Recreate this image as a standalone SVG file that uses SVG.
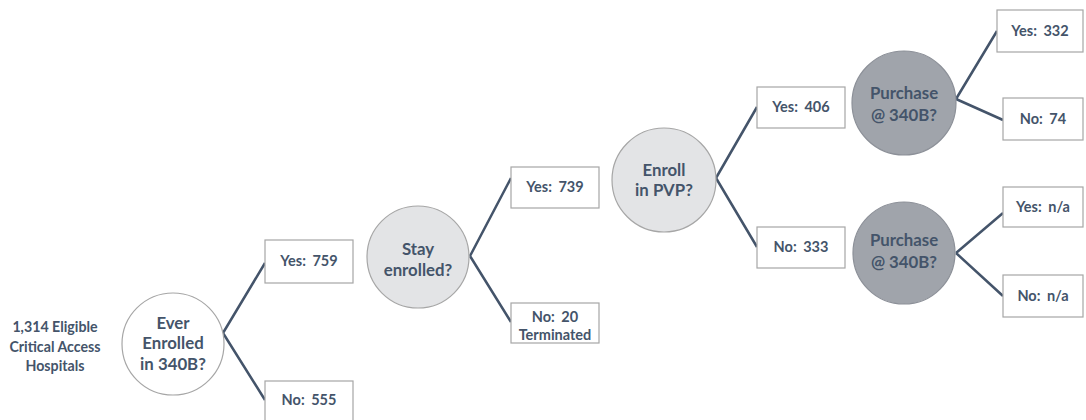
<svg xmlns="http://www.w3.org/2000/svg" width="1086" height="420" viewBox="0 0 1086 420">
<style>
.t{font-family:Lato,"Open Sans","Liberation Sans",sans-serif;font-weight:bold;fill:#44546a;text-anchor:middle}
.bt{font-size:14.5px;word-spacing:3px}
.ct{font-size:16.8px}
.lt{font-size:14.2px}
.box{fill:#fff;stroke:#a6a6a6;stroke-width:1.2}
.c0{fill:#fff;stroke:#a6a6a6;stroke-width:1.2}
.c1{fill:#e3e4e6;stroke:#a6a6a6;stroke-width:1.2}
.c2{fill:#a0a4ab;stroke:#8c9098;stroke-width:1.2}
.ln{stroke:#44546a;stroke-width:2.5;fill:none}
</style>
<rect width="1086" height="420" fill="#fff"/>
<g id="connectors">
<path class="ln" d="M223,333 L265,263 M223,333 L265,400"/>
<path class="ln" d="M470,256 L511,178 M470,256 L511,322"/>
<path class="ln" d="M716,178 L757,107 M716,178 L757,247"/>
<path class="ln" d="M956,99 L997,31 M956,99 L1003,120"/>
<path class="ln" d="M956,253 L1003,213 M956,253 L1003,296"/>
</g>
<g id="start">
<text class="t lt" x="55" y="332">1,314 Eligible</text>
<text class="t lt" x="55" y="352">Critical Access</text>
<text class="t lt" x="55" y="371">Hospitals</text>
</g>
<g id="q1">
<circle class="c0" cx="173" cy="344" r="51"/>
<text class="t ct" x="173" y="329">Ever</text>
<text class="t ct" x="173" y="349">Enrolled</text>
<text class="t ct" x="173" y="370">in 340B?</text>
</g>
<g id="q1yes"><rect class="box" x="265" y="240" width="88" height="43"/><text class="t bt" x="309" y="266">Yes: 759</text></g>
<g id="q1no"><rect class="box" x="265" y="381" width="88" height="40"/><text class="t bt" x="309" y="405">No: 555</text></g>
<g id="q2">
<circle class="c1" cx="418" cy="257" r="51"/>
<text class="t ct" x="418" y="255">Stay</text>
<text class="t ct" x="418" y="276">enrolled?</text>
</g>
<g id="q2yes"><rect class="box" x="511" y="167" width="88" height="41"/><text class="t bt" x="555" y="192">Yes: 739</text></g>
<g id="q2no"><rect class="box" x="511" y="303" width="88" height="40"/><text class="t bt" x="555" y="322">No: 20</text><text class="t" font-size="14.5" x="555" y="340">Terminated</text></g>
<g id="q3">
<circle class="c1" cx="664" cy="180" r="52"/>
<text class="t ct" x="664" y="176">Enroll</text>
<text class="t ct" x="664" y="196">in PVP?</text>
</g>
<g id="q3yes"><rect class="box" x="757" y="87" width="88" height="41"/><text class="t bt" x="801" y="112">Yes: 406</text></g>
<g id="q3no"><rect class="box" x="757" y="227" width="88" height="41"/><text class="t bt" x="801" y="252">No: 333</text></g>
<g id="q4a">
<circle class="c2" cx="904" cy="103" r="52"/>
<text class="t ct" x="904" y="99">Purchase</text>
<text class="t ct" x="904" y="121">@ 340B?</text>
</g>
<g id="q4ayes"><rect class="box" x="997" y="10" width="86" height="42"/><text class="t bt" x="1040" y="36">Yes: 332</text></g>
<g id="q4ano"><rect class="box" x="1003" y="98" width="80" height="42"/><text class="t bt" x="1043" y="124">No: 74</text></g>
<g id="q4b">
<circle class="c2" cx="904" cy="253" r="51"/>
<text class="t ct" x="904" y="246">Purchase</text>
<text class="t ct" x="904" y="268">@ 340B?</text>
</g>
<g id="q4byes"><rect class="box" x="1003" y="187" width="80" height="40"/><text class="t bt" x="1043" y="212">Yes: n/a</text></g>
<g id="q4bno"><rect class="box" x="1003" y="275" width="80" height="42"/><text class="t bt" x="1043" y="301">No: n/a</text></g>
</svg>
